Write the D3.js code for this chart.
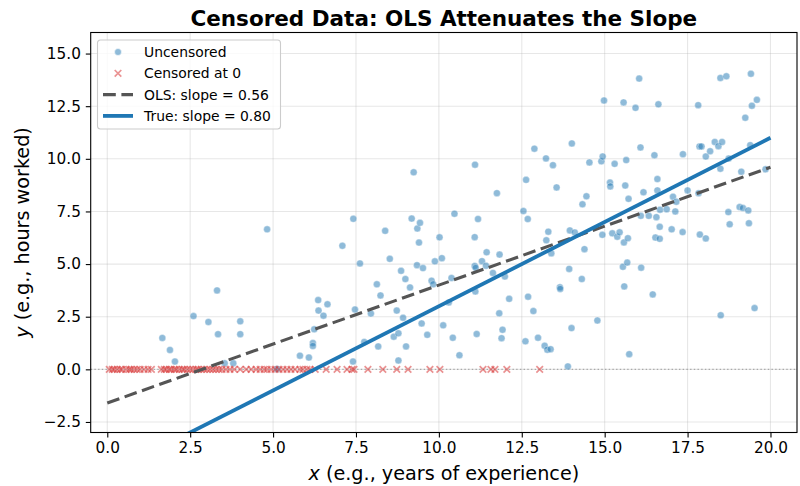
<!DOCTYPE html>
<meta charset='utf-8'>
<style>
	body { margin: 0; background: #fff; }
	svg { display: block; font-family: 'DejaVu Sans', sans-serif; }
	.grid line { stroke: #b0b0b0; stroke-opacity: 0.3; stroke-width: 1.1px; }
	.tick text { font-size: 15.3px; fill: #000; }
</style>
<body>
<script src='https://cdn.jsdelivr.net/npm/d3@7'></script>
<script type='text/javascript'>
	// points
	var uncensoredX = [1.66,1.89,2.04,2.60,3.05,3.31,3.34,4.01,4.01,3.54,3.80,4.82,5.12,5.81,6.08,6.20,6.20,6.24,6.36,6.37,6.52,6.64,
		7.09,7.42,7.47,7.41,7.62,7.75,7.95,8.13,8.24,8.17,8.38,8.52,8.64,8.78,8.78,8.73,8.86,8.99,8.92,9.01,9.13,9.18,9.24,9.35,9.43,9.40,9.34,9.52,9.48,9.65,9.78,9.83,9.88,10.02,10.09,10.13,10.30,10.38,10.42,10.47,10.62,11.08,11.09,11.18,11.08,11.11,11.10,11.14,11.30,11.44,11.42,11.63,11.75,11.83,11.99,12.12,11.82,11.92,11.89,12.55,12.63,12.68,12.61,12.69,12.85,12.88,12.99,13.23,13.19,13.27,13.37,13.30,13.24,13.39,
		13.44,13.55,13.65,13.66,13.89,13.93,13.95,14.00,14.01,14.10,14.31,14.33,14.39,14.45,14.54,14.78,14.90,14.94,14.93,14.98,15.16,15.17,15.23,15.30,15.38,15.45,15.55,15.57,15.58,15.59,15.62,15.65,15.68,15.70,15.72,15.74,15.93,16.04,16.08,16.09,16.10,16.17,16.33,16.45,16.50,16.53,16.56,16.59,16.59,16.62,16.66,16.66,16.67,16.87,17.02,17.06,17.13,17.16,17.36,17.35,17.50,17.82,17.83,17.86,17.92,17.87,18.05,18.05,18.18,18.32,18.43,18.49,18.49,18.50,18.54,18.67,18.73,18.74,18.77,19.07,19.12,19.17,19.24,19.33,19.35,19.39,19.41,19.44,19.52,19.59,19.85];
	var uncensoredY = [1.49,0.92,0.37,2.53,2.25,3.75,1.67,2.28,1.67,0.29,0.29,6.65,0.02,0.65,0.56,1.25,1.11,1.90,3.29,2.79,2.55,3.09,
		5.87,7.15,2.84,0.37,5.03,1.30,2.65,4.04,3.51,1.09,6.58,5.25,1.55,1.71,0.42,2.79,4.68,4.29,2.45,1.09,3.89,7.16,9.36,6.69,6.96,6.02,4.95,4.81,2.18,1.64,4.21,4.04,5.13,6.27,5.28,2.09,3.18,4.34,1.50,7.39,0.67,6.28,9.72,7.14,4.91,4.82,3.70,1.68,5.14,5.56,4.92,4.58,8.37,5.45,4.41,3.35,2.66,1.88,1.48,7.52,9.00,7.14,1.33,3.45,2.77,10.48,1.50,10.02,1.12,0.93,0.96,6.54,6.13,5.51,
		9.70,8.64,3.90,3.82,0.14,4.77,6.60,1.96,10.73,6.50,4.29,7.84,5.71,8.22,9.83,2.32,9.88,10.11,6.39,12.77,8.87,8.69,6.46,9.76,6.30,6.51,4.87,12.68,6.03,3.94,8.73,9.94,5.07,6.23,8.10,0.72,12.42,13.81,10.54,7.29,4.83,8.41,7.29,3.56,10.17,6.26,7.23,9.04,8.50,12.59,6.77,6.20,7.58,7.61,6.65,8.20,7.50,7.96,10.22,6.52,8.50,12.55,8.37,10.59,10.59,6.40,10.11,6.22,10.36,10.80,10.60,13.84,9.53,2.57,10.80,13.92,7.47,10.01,6.89,7.71,9.39,7.66,11.95,7.55,6.94,10.65,14.04,12.52,2.91,12.80,9.50];
	var censoredX = [0.06,0.15,0.21,0.30,0.39,0.45,0.57,0.66,0.72,0.81,0.90,0.99,1.11,1.23,1.33,
		1.63,1.72,1.78,1.87,1.93,2.02,2.08,2.17,2.26,2.32,2.41,2.50,2.59,2.68,2.74,2.83,2.92,3.01,3.10,3.19,3.28,3.37,3.46,3.58,3.70,3.83,
		4.01,4.19,4.34,4.49,4.61,4.73,4.82,4.94,5.06,5.18,5.30,5.42,5.54,5.66,5.81,5.90,6.02,6.11,6.27,6.60,6.93,7.23,7.38,7.44,7.86,8.31,8.73,9.07,9.73,10.03,11.33,11.57,11.69,12.05,13.04];
	var olsFit = {slope: 0.56, intercept: -1.6};
	var trueFit = {slope: 0.80, intercept: -5.0};
	var lineX = [0, 20];
	var xTicks = [0, 2.5, 5, 7.5, 10, 12.5, 15, 17.5, 20];
	var yTicks = [-2.5, 0, 2.5, 5, 7.5, 10, 12.5, 15];

	var W = 800, H = 486;
	var m = {l: 90.7, r: 3, t: 32.5, b: 53.5};
	var pw = W - m.l - m.r, ph = H - m.t - m.b;

	var x = d3.scaleLinear().domain([-0.5, 20.8]).range([0, pw]);
	var y = d3.scaleLinear().domain([-3, 16]).range([ph, 0]);
	var fmt = d3.format('.1f');
	var tickFmt = function (d) { return fmt(d).replace('-', '\u2212'); };

	var svg = d3.select('body').append('svg').attr('width', W).attr('height', H);
	svg.append('defs').append('clipPath').attr('id', 'clip')
		.append('rect').attr('width', pw).attr('height', ph);

	var g = svg.append('g').attr('transform', 'translate(' + m.l + ',' + m.t + ')');

	// grid
	var grid = g.append('g').attr('class', 'grid');
	grid.selectAll('.gx').data(xTicks).enter().append('line')
		.attr('x1', function (d) { return x(d); }).attr('x2', function (d) { return x(d); })
		.attr('y1', 0).attr('y2', ph);
	grid.selectAll('.gy').data(yTicks).enter().append('line')
		.attr('y1', function (d) { return y(d); }).attr('y2', function (d) { return y(d); })
		.attr('x1', 0).attr('x2', pw);

	var plot = g.append('g').attr('clip-path', 'url(#clip)');

	// y = 0 reference
	plot.append('line').attr('x1', 0).attr('x2', pw).attr('y1', y(0)).attr('y2', y(0))
		.attr('stroke', '#808080').attr('stroke-opacity', 0.6).attr('stroke-width', 1.4)
		.attr('stroke-dasharray', '1.4,2.3');

	var pts = d3.zip(uncensoredX, uncensoredY);
	plot.selectAll('circle').data(pts).enter().append('circle')
		.attr('cx', function (d) { return x(d[0]); }).attr('cy', function (d) { return y(d[1]); })
		.attr('r', 3.5).attr('fill', '#1f77b4').attr('fill-opacity', 0.5)
		.attr('stroke', '#fff').attr('stroke-width', 0.6).attr('stroke-opacity', 0.6);

	var s = 3.3;
	plot.selectAll('.cx').data(censoredX).enter().append('path')
		.attr('d', function (d) {
			var cx = x(d), cy = y(0);
			return 'M' + (cx - s) + ',' + (cy - s) + 'L' + (cx + s) + ',' + (cy + s) +
				'M' + (cx - s) + ',' + (cy + s) + 'L' + (cx + s) + ',' + (cy - s);
		})
		.attr('stroke', '#d62728').attr('stroke-opacity', 0.5).attr('stroke-width', 1.7).attr('fill', 'none');

	function fitLine(f) {
		return d3.line().x(function (d) { return x(d); })
			.y(function (d) { return y(f.intercept + f.slope * d); })(lineX);
	}
	plot.append('path').attr('d', fitLine(olsFit)).attr('fill', 'none')
		.attr('stroke', '#555').attr('stroke-width', 3.1).attr('stroke-dasharray', '12.8,5.6');
	plot.append('path').attr('d', fitLine(trueFit)).attr('fill', 'none')
		.attr('stroke', '#1f77b4').attr('stroke-width', 3.8);

	// axes
	var xAxis = g.append('g').attr('transform', 'translate(0,' + ph + ')')
		.call(d3.axisBottom(x).tickValues(xTicks).tickFormat(tickFmt).tickSize(4.9).tickPadding(4.9));
	var yAxis = g.append('g')
		.call(d3.axisLeft(y).tickValues(yTicks).tickFormat(tickFmt).tickSize(4.9).tickPadding(4.9));
	[xAxis, yAxis].forEach(function (a) {
		a.select('.domain').remove();
		a.selectAll('.tick line').attr('stroke', '#000').attr('stroke-width', 1.1);
		a.selectAll('.tick text').attr('font-family', 'DejaVu Sans');
	});
	g.append('rect').attr('width', pw).attr('height', ph).attr('fill', 'none')
		.attr('stroke', '#000').attr('stroke-width', 1.1);

	// title and labels
	svg.append('text').attr('x', m.l + pw / 2).attr('y', 25.5).attr('text-anchor', 'middle')
		.attr('font-size', 21.5).attr('font-weight', 'bold').text('Censored Data: OLS Attenuates the Slope');

	var xl = svg.append('text').attr('x', m.l + pw / 2).attr('y', 480).attr('text-anchor', 'middle')
		.attr('font-size', 19.2);
	xl.append('tspan').attr('font-style', 'italic').text('x');
	xl.append('tspan').text(' (e.g., years of experience)');

	var yl = svg.append('text').attr('transform', 'translate(29,' + (m.t + ph / 2) + ') rotate(-90)')
		.attr('text-anchor', 'middle').attr('font-size', 19.2);
	yl.append('tspan').attr('font-style', 'italic').text('y');
	yl.append('tspan').text(' (e.g., hours worked)');

	// legend
	var lg = svg.append('g').attr('transform', 'translate(97.5,40)');
	lg.append('rect').attr('width', 183).attr('height', 89).attr('rx', 3)
		.attr('fill', '#fff').attr('fill-opacity', 0.8).attr('stroke', '#ccc').attr('stroke-width', 1.1);
	var rows = [
		{label: 'Uncensored', kind: 'dot'},
		{label: 'Censored at 0', kind: 'x'},
		{label: 'OLS: slope = ' + olsFit.slope.toFixed(2), kind: 'ols'},
		{label: 'True: slope = ' + trueFit.slope.toFixed(2), kind: 'true'}
	];
	rows.forEach(function (r, i) {
		var cy = 12 + i * 21.3;
		var row = lg.append('g').attr('transform', 'translate(0,' + cy + ')');
		if (r.kind === 'dot') {
			row.append('circle').attr('cx', 20.5).attr('cy', 0).attr('r', 3.5)
				.attr('fill', '#1f77b4').attr('fill-opacity', 0.5).attr('stroke', '#fff').attr('stroke-width', 0.6);
		} else if (r.kind === 'x') {
			row.append('path').attr('d', 'M17.2,-3.3L23.8,3.3M17.2,3.3L23.8,-3.3')
				.attr('stroke', '#d62728').attr('stroke-opacity', 0.5).attr('stroke-width', 1.7);
		} else if (r.kind === 'ols') {
			row.append('line').attr('x1', 5.5).attr('x2', 35.5).attr('y1', 0).attr('y2', 0)
				.attr('stroke', '#555').attr('stroke-width', 3.1).attr('stroke-dasharray', '12.8,5.6');
		} else {
			row.append('line').attr('x1', 5.5).attr('x2', 35.5).attr('y1', 0).attr('y2', 0)
				.attr('stroke', '#1f77b4').attr('stroke-width', 3.8);
		}
		row.append('text').attr('x', 46.5).attr('y', 5).attr('font-size', 13.9).text(r.label);
	});
</script>
</body>
